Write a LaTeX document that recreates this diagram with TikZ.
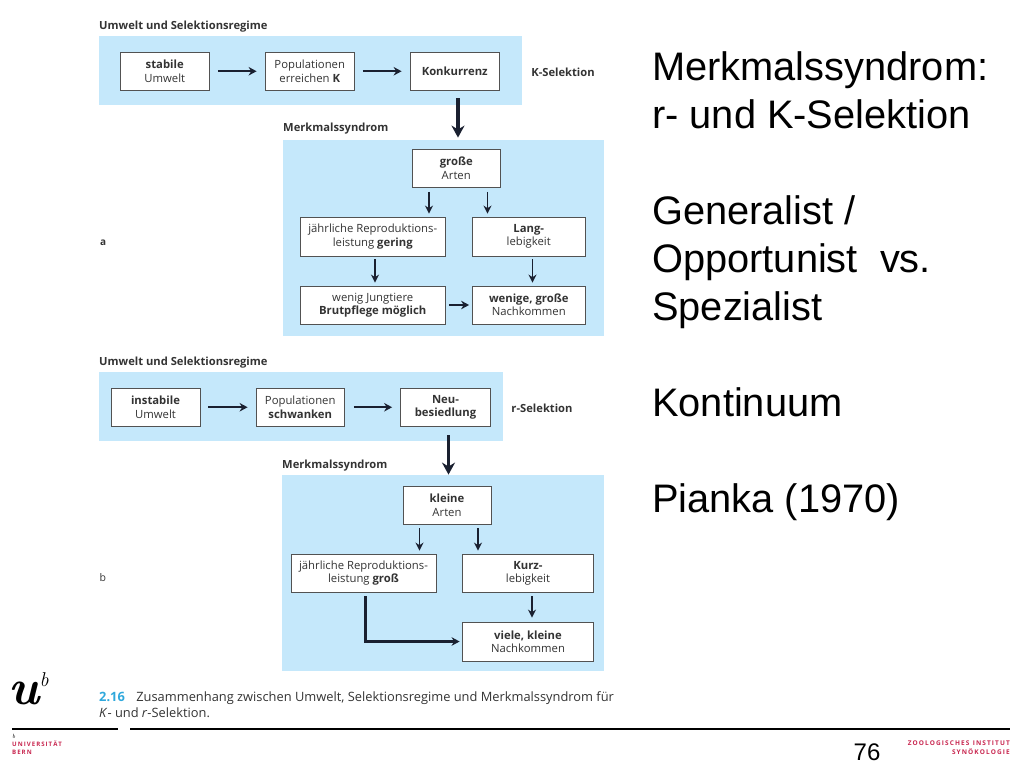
\documentclass[tikz,border=0pt]{standalone}
\usepackage{fontspec}
\setsansfont{Open Sans}
\newfontfamily\slidefont{Liberation Sans}
\usetikzlibrary{arrows.meta}

\definecolor{panelblue}{HTML}{C5E8FB}
\definecolor{inkgrey}{HTML}{333333}
\definecolor{arrowink}{HTML}{1A2030}
\definecolor{capblue}{HTML}{2FA8DC}
\definecolor{unired}{HTML}{C8264F}

\tikzset{
    boxnode/.style={draw=inkgrey!85,line width=0.8pt,fill=white,align=center,inner sep=0pt,
        text=inkgrey,font=\sffamily\fontsize{11.3}{13.4}\selectfont},
    headnode/.style={anchor=west,inner sep=0pt,text=inkgrey,font=\sffamily\bfseries\fontsize{11.2}{13}\selectfont},
    thinarrow/.style={draw=arrowink,line width=1.9pt,-{Stealth[length=8pt,width=8pt]}},
    midarrow/.style={draw=arrowink,line width=2.2pt,-{Stealth[length=8pt,width=8.5pt]}},
    bendarrow/.style={draw=arrowink,line width=2.6pt,-{Stealth[length=8pt,width=8.5pt]}},
    bigarrow/.style={draw=arrowink,line width=3.7pt,-{Stealth[length=12pt,width=13pt]}},
    slidetext/.style={anchor=north west,inner sep=0pt,align=left,font=\slidefont\fontsize{39.8}{48}\selectfont},
    rulerline/.style={line width=1.5pt,black},
    redlabel/.style={inner sep=0pt,text=unired,font=\sffamily\bfseries\fontsize{6.5}{8}\selectfont},
}

\begin{document}
\begin{tikzpicture}[x=1pt,y=-1pt]
    \useasboundingbox (0,0) rectangle (1024,768);

    % part a
    \fill[panelblue] (99,36) rectangle (522,105);
    \fill[panelblue] (283,140) rectangle (604,336);
    \node[headnode] (titleA) at (99,27) {Umwelt und Selektionsregime};
    \node[headnode] (traitsA) at (283,129) {Merkmalssyndrom};
    \node[headnode,font=\sffamily\bfseries\fontsize{10}{12}\selectfont] (labelA) at (100,243) {a};
    \node[headnode,anchor=center] (kselect) at (563,72) {K-Selektion};

    \node[boxnode,minimum width=89.5pt,minimum height=38.5pt] (stabile) at (164.75,71.25) {\textbf{stabile}\\Umwelt};
    \node[boxnode,minimum width=89.5pt,minimum height=38.5pt] (popK) at (309.75,71.25) {Populationen\\erreichen \textbf{K}};
    \node[boxnode,minimum width=89.5pt,minimum height=38.5pt] (konkurrenz) at (454.75,71.25) {\textbf{Konkurrenz}};
    \node[boxnode,minimum width=88.5pt,minimum height=38.5pt] (grosse) at (456.25,168.25) {\textbf{große}\\Arten};
    \node[boxnode,minimum width=145.5pt,minimum height=39pt] (geringrep) at (372.75,236.5) {jährliche Reproduktions-\\leistung \textbf{gering}};
    \node[boxnode,minimum width=113.5pt,minimum height=39pt] (lang) at (528.75,236.5) {\textbf{Lang-}\\lebigkeit};
    \node[boxnode,minimum width=145.5pt,minimum height=38pt] (jungtiere) at (372.75,305) {wenig Jungtiere\\\textbf{Brutpflege möglich}};
    \node[boxnode,minimum width=113.5pt,minimum height=38pt] (wenige) at (528.75,305) {\textbf{wenige, große}\\Nachkommen};

    \draw[midarrow,shorten <=8pt,shorten >=8pt] (stabile) -- (popK);
    \draw[midarrow,shorten <=8pt,shorten >=8pt] (popK) -- (konkurrenz);
    \draw[bigarrow,shorten <=7.5pt,shorten >=11pt] ([xshift=3.25pt]konkurrenz.south) -- ([xshift=1.75pt]grosse.north);
    \draw[thinarrow,shorten <=4pt,shorten >=3pt] ([xshift=-27.25pt]grosse.south) -- ([xshift=-27.25pt]grosse.south |- geringrep.north);
    \draw[thinarrow,shorten <=4pt,shorten >=3pt] ([xshift=31.25pt]grosse.south) -- ([xshift=31.25pt]grosse.south |- lang.north);
    \draw[thinarrow,shorten <=3pt,shorten >=3pt] ([xshift=2.25pt]geringrep.south) -- ([xshift=2.25pt]jungtiere.north);
    \draw[thinarrow,shorten <=3pt,shorten >=3pt] ([xshift=3.75pt]lang.south) -- ([xshift=3.75pt]wenige.north);
    \draw[midarrow,shorten <=3pt,shorten >=2.5pt] (jungtiere) -- (wenige);

    % part b
    \fill[panelblue] (99,372) rectangle (503,441);
    \fill[panelblue] (282,475) rectangle (603.5,671);
    \node[headnode] (titleB) at (99,362.5) {Umwelt und Selektionsregime};
    \node[headnode] (traitsB) at (282,465.5) {Merkmalssyndrom};
    \node[headnode,font=\sffamily\fontsize{10.5}{12}\selectfont] (labelB) at (99.5,578) {b};
    \node[headnode,anchor=center] (rselect) at (542,408.5) {r-Selektion};

    \node[boxnode,minimum width=89pt,minimum height=38.5pt] (instabile) at (155.5,407.25) {\textbf{instabile}\\Umwelt};
    \node[boxnode,minimum width=88.5pt,minimum height=38.5pt] (popS) at (300.25,407.25) {Populationen\\\textbf{schwanken}};
    \node[boxnode,minimum width=90pt,minimum height=38.5pt] (neu) at (445.5,407.25) {\textbf{Neu-}\\\textbf{besiedlung}};
    \node[boxnode,minimum width=88pt,minimum height=38.5pt] (kleine) at (447,505.25) {\textbf{kleine}\\Arten};
    \node[boxnode,minimum width=145pt,minimum height=38.5pt] (grossrep) at (363.5,573.25) {jährliche Reproduktions-\\leistung \textbf{groß}};
    \node[boxnode,minimum width=131pt,minimum height=38.5pt] (kurz) at (528,573.25) {\textbf{Kurz-}\\lebigkeit};
    \node[boxnode,minimum width=131pt,minimum height=39pt] (viele) at (528,641.5) {\textbf{viele, kleine}\\Nachkommen};

    \draw[midarrow,shorten <=8pt,shorten >=8pt] (instabile) -- (popS);
    \draw[midarrow,shorten <=9pt,shorten >=8pt] (popS) -- (neu);
    \draw[bigarrow,shorten <=8.5pt,shorten >=11pt] ([xshift=3pt]neu.south) -- ([xshift=1.5pt]kleine.north);
    \draw[thinarrow,shorten <=3.5pt,shorten >=3pt] ([xshift=-27.5pt]kleine.south) -- ([xshift=-27.5pt]kleine.south |- grossrep.north);
    \draw[thinarrow,shorten <=3.5pt,shorten >=3pt] ([xshift=31pt]kleine.south) -- ([xshift=31pt]kleine.south |- kurz.north);
    \draw[thinarrow,shorten <=3.5pt,shorten >=4pt] ([xshift=4pt]kurz.south) -- ([xshift=4pt]viele.north);
    \draw[bendarrow,shorten <=3.5pt,shorten >=2.5pt] ([xshift=2pt]grossrep.south) |- (viele.west);

    % caption
    \node[anchor=north west,inner sep=0pt,align=left,text=inkgrey,font=\sffamily\fontsize{12.85}{15.5}\selectfont] (caption) at (99,691.5)
        {\textcolor{capblue}{\textbf{2.16}}\hspace{11.5pt}Zusammenhang zwischen Umwelt, Selektionsregime und Merkmalssyndrom für\\\textit{K}- und \textit{r}-Selektion.};

    % slide text
    \node[slidetext] (slide) at (652,51) {Merkmalssyndrom:\\r- und K-Selektion\\[48pt]Generalist /\\Opportunist\ \ vs.\\Spezialist\\[48pt]Kontinuum\\[48pt]Pianka (1970)};

    % footer
    \node[inner sep=0pt,font=\rmfamily\bfseries\itshape\fontsize{50}{50}\selectfont] (logoU) at (24.5,693) {u};
    \node[inner sep=0pt,font=\rmfamily\itshape\fontsize{20}{20}\selectfont] (logoB) at (44,680) {b};
    \draw[rulerline] (12,729) -- (118,729);
    \draw[rulerline] (130,729) -- (1010,729);
    \node[redlabel,anchor=west,font=\rmfamily\itshape\fontsize{6}{6}\selectfont,text=black] (smallB) at (12,736) {b};
    \node[redlabel,anchor=west,font=\sffamily\bfseries\fontsize{6.1}{8}\selectfont] (uni) at (12,744) {U\,N\,I\,V\,E\,R\,S\,I\,T\,Ä\,T};
    \node[redlabel,anchor=west,font=\sffamily\bfseries\fontsize{6.1}{8}\selectfont] (bern) at (12,752) {B\,E\,R\,N};
    \node[inner sep=0pt,font=\slidefont\fontsize{24}{24}\selectfont] (pagenum) at (867,752) {76};
    \node[redlabel,anchor=east] (institut) at (1010,743) {Z\,O\,O\,L\,O\,G\,I\,S\,C\,H\,E\,S\ \ I\,N\,S\,T\,I\,T\,U\,T};
    \node[redlabel,anchor=east] (synok) at (1010,752) {S\,Y\,N\,Ö\,K\,O\,L\,O\,G\,I\,E};
\end{tikzpicture}
\end{document}
